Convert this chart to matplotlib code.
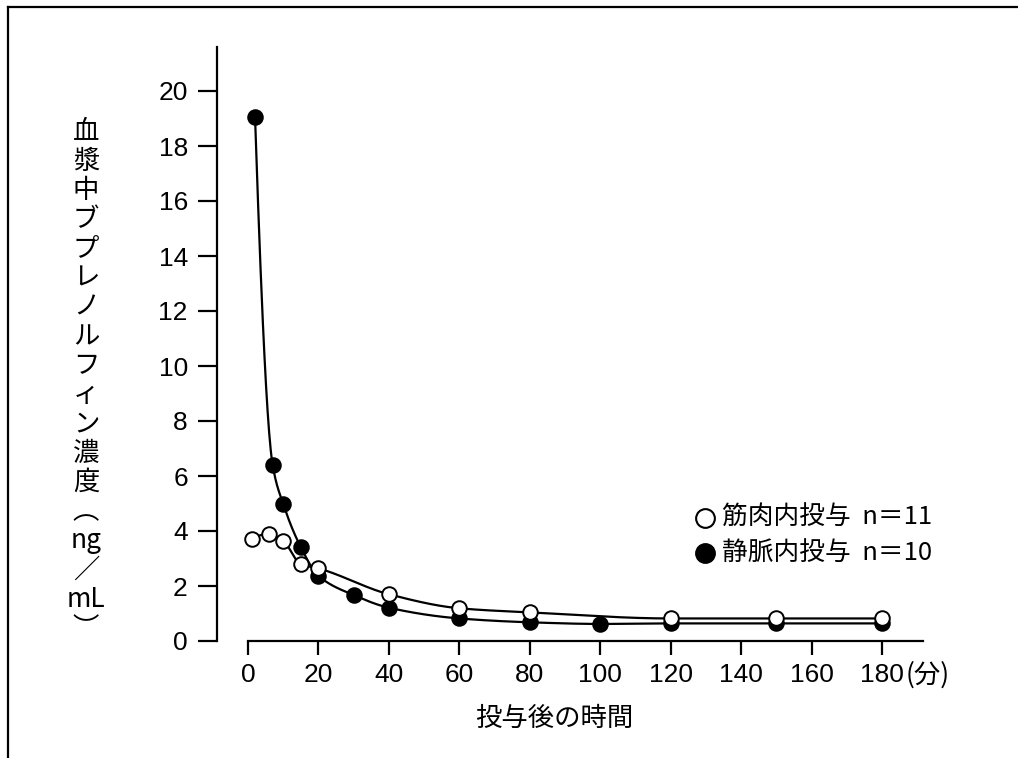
import numpy as np
import matplotlib
matplotlib.use("Agg")
import matplotlib.pyplot as plt
from matplotlib.lines import Line2D

# ---- data ----
im_x = [1, 6, 10, 15, 20, 40, 60, 80, 120, 150, 180]
im_y = [3.70, 3.88, 3.64, 2.79, 2.64, 1.70, 1.19, 1.04, 0.82, 0.82, 0.82]
iv_x = [2, 7, 10, 15, 20, 30, 40, 60, 80, 100, 120, 150, 180]
iv_y = [19.05, 6.40, 4.98, 3.41, 2.37, 1.67, 1.21, 0.82, 0.68, 0.62, 0.64, 0.64, 0.64]
xticks = [0, 20, 40, 60, 80, 100, 120, 140, 160, 180]
yticks = [0, 2, 4, 6, 8, 10, 12, 14, 16, 18, 20]
label_im = "筋肉内投与  n＝11"
label_iv = "静脈内投与  n＝10"
xlabel = "投与後の時間"
xunit = "(分)"
ylabel_chars = ["血", "漿", "中", "ブ", "プ", "レ", "ノ", "ル", "フ", "ィ", "ン",
                "濃", "度", "︵", "ng", "／", "mL", "︶"]

JP = ["Noto Sans CJK JP", "DejaVu Sans"]
NUM = ["Liberation Sans", "DejaVu Sans"]


def pchip(x, y, xs):
    x = np.asarray(x, float); y = np.asarray(y, float)
    n = len(x)
    h = np.diff(x); d = np.diff(y) / h
    m = np.zeros(n)
    for k in range(1, n - 1):
        if d[k - 1] * d[k] <= 0:
            m[k] = 0.0
        else:
            w1 = 2 * h[k] + h[k - 1]
            w2 = h[k] + 2 * h[k - 1]
            m[k] = (w1 + w2) / (w1 / d[k - 1] + w2 / d[k])

    def endslope(h0, h1, d0, d1):
        s = ((2 * h0 + h1) * d0 - h0 * d1) / (h0 + h1)
        if np.sign(s) != np.sign(d0):
            s = 0.0
        elif np.sign(d0) != np.sign(d1) and abs(s) > abs(3 * d0):
            s = 3 * d0
        return s
    m[0] = endslope(h[0], h[1], d[0], d[1])
    m[-1] = endslope(h[-1], h[-2], d[-1], d[-2])
    xs = np.asarray(xs, float)
    idx = np.clip(np.searchsorted(x, xs) - 1, 0, n - 2)
    t = (xs - x[idx]) / h[idx]
    h00 = 2 * t**3 - 3 * t**2 + 1
    h10 = t**3 - 2 * t**2 + t
    h01 = -2 * t**3 + 3 * t**2
    h11 = t**3 - t**2
    return h00 * y[idx] + h10 * h[idx] * m[idx] + h01 * y[idx + 1] + h11 * h[idx] * m[idx + 1]


W, H = 1018, 758
fig = plt.figure(figsize=(W / 100, H / 100), dpi=100)
fig.patch.set_facecolor("white")

ax_l, ax_r, ax_b, ax_t = 217, 923, 641, 47
ax = fig.add_axes([ax_l / W, (H - ax_b) / H, (ax_r - ax_l) / W, (ax_b - ax_t) / H])

xmin = -(248 - 217) / 3.522
xmax = (923 - 248) / 3.522
ax.set_xlim(xmin, xmax)
ax.set_ylim(0, (641 - 47) / 27.5)

# curves
xs = np.linspace(im_x[0], im_x[-1], 800)
ax.plot(xs, pchip(im_x, im_y, xs), color="black", lw=1.6, zorder=2)
xs2 = np.linspace(iv_x[0], iv_x[-1], 800)
ax.plot(xs2, pchip(iv_x, iv_y, xs2), color="black", lw=1.6, zorder=2)

ax.plot(iv_x, iv_y, ls="none", marker="o", ms=10.5, mfc="black", mec="black", mew=1.4, zorder=3)
ax.plot(im_x, im_y, ls="none", marker="o", ms=10.5, mfc="white", mec="black", mew=1.4, zorder=4)

for s in ["top", "right"]:
    ax.spines[s].set_visible(False)
ax.spines["left"].set_bounds(0, (641 - 47) / 27.5)
ax.spines["bottom"].set_bounds(0, xmax)
for s in ["left", "bottom"]:
    ax.spines[s].set_linewidth(1.6)

ax.set_xticks(xticks)
ax.set_yticks(yticks)
ax.set_xticklabels([str(v) for v in xticks], fontfamily=NUM, fontsize=19)
ax.set_yticklabels([str(v) for v in yticks], fontfamily=NUM, fontsize=19)
ax.tick_params(axis="y", length=14, width=1.6, pad=7, direction="out")
ax.tick_params(axis="x", length=10, width=1.6, pad=6, direction="out")

# unit after 180
fig.text(906 / W, 1 - 675 / H, xunit, fontfamily=JP, fontsize=19, ha="left", va="center")

# x label
fig.text(554 / W, 1 - 718 / H, xlabel, fontfamily=JP, fontsize=19, ha="center", va="center")

# y label: stacked characters
for i, ch in enumerate(ylabel_chars):
    fig.text(86 / W, 1 - (132 + 29.2 * i) / H, ch, fontfamily=JP, fontsize=19,
             ha="center", va="center")

# legend
fig.add_artist(Line2D([705 / W], [1 - 518 / H], transform=fig.transFigure, ls="none",
                      marker="o", ms=13.5, mfc="white", mec="black", mew=1.5))
fig.add_artist(Line2D([705 / W], [1 - 553 / H], transform=fig.transFigure, ls="none",
                      marker="o", ms=13.5, mfc="black", mec="black", mew=1.5))
fig.text(722 / W, 1 - 518 / H, label_im, fontfamily=JP, fontsize=18.5, ha="left", va="center")
fig.text(722 / W, 1 - 553 / H, label_iv, fontfamily=JP, fontsize=18.5, ha="left", va="center")

# outer border (top and left)
fig.add_artist(Line2D([8 / W, 1], [1 - 7 / H, 1 - 7 / H], transform=fig.transFigure,
                      color="black", lw=1.6))
fig.add_artist(Line2D([8 / W, 8 / W], [1 - 7 / H, 0], transform=fig.transFigure,
                      color="black", lw=1.6))

fig.savefig("out.png", dpi=100, facecolor="white")
